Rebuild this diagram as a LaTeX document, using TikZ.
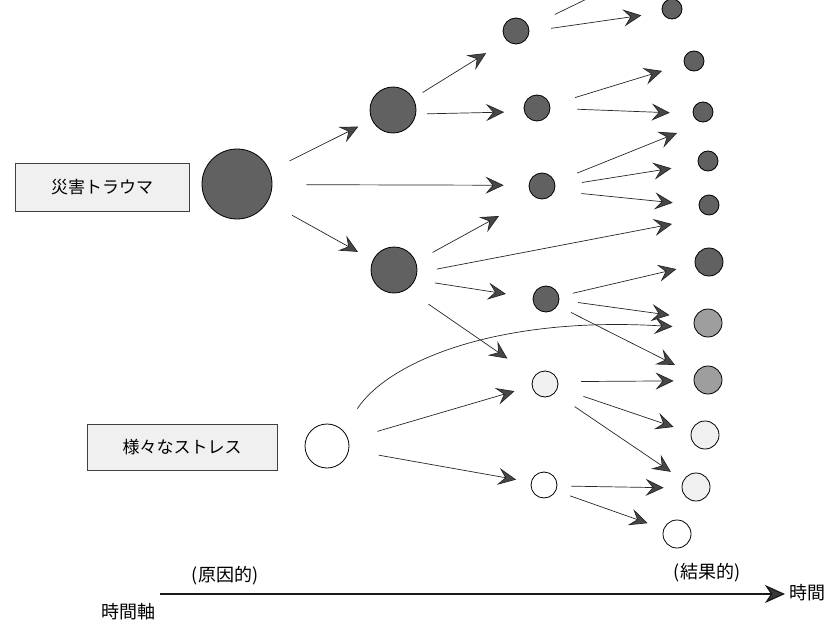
\documentclass[tikz,border=0pt]{standalone}
\usepackage{fontspec}
\newfontfamily\jp{Noto Sans CJK JP}
\usetikzlibrary{arrows.meta}
\begin{document}
\begin{tikzpicture}[x=1pt,y=-1pt,
  dot/.style={circle,draw=black,line width=0.8pt,inner sep=0pt,minimum size=#1},
  dark/.style={fill=black!62},
  midg/.style={fill=black!38},
  pale/.style={fill=black!6},
  plain/.style={fill=white},
  lbl/.style={draw=black!75,line width=0.8pt,fill=black!6,inner sep=0pt,font=\jp\fontsize{17}{17}\selectfont},
  conn/.style={draw=black!85,line width=0.7pt},
  arr/.style={conn,-{Stealth[length=18pt,width=17pt,inset=7pt,fill=black!72]}},
  axarr/.style={draw=black!90,line width=1.3pt,-{Stealth[length=20pt,width=18pt,inset=6pt,fill=black!78]}},
  axislbl/.style={font=\jp\fontsize{18}{18}\selectfont,inner sep=0pt}
]
\useasboundingbox (0,0) rectangle (828,626);

% label boxes
\node[lbl,minimum width=174pt,minimum height=48pt] (L1) at (102,187) {災害トラウマ};
\node[lbl,minimum width=190pt,minimum height=46pt] (L2) at (182,447) {様々なストレス};

% first column
\node[dot=70pt,dark] (T) at (237,184) {};
\node[dot=44pt,plain] (S) at (327,446) {};
% second column
\node[dot=46pt,dark] (A) at (393,110) {};
\node[dot=46pt,dark] (B) at (394,270) {};
% third column
\node[dot=26pt,dark] (C1) at (516,31) {};
\node[dot=26pt,dark] (C2) at (537,108) {};
\node[dot=26pt,dark] (C3) at (542,186) {};
\node[dot=26pt,dark] (C4) at (546,299) {};
\node[dot=26pt,pale] (C5) at (545,384) {};
\node[dot=26pt,plain] (C6) at (544,485) {};
% right column
\node[dot=20pt,dark] (R1) at (672,9) {};
\node[dot=20pt,dark] (R2) at (694,61) {};
\node[dot=20pt,dark] (R3) at (703,112) {};
\node[dot=20pt,dark] (R4) at (708,161) {};
\node[dot=20pt,dark] (R5) at (709,205) {};
\node[dot=28pt,dark] (R6) at (709,262) {};
\node[dot=28pt,midg] (R7) at (708,323) {};
\node[dot=28pt,midg] (R8) at (708,380) {};
\node[dot=28pt,pale] (R9) at (705,435) {};
\node[dot=28pt,pale] (R10) at (696,487) {};
\node[dot=28pt,plain] (R11) at (677,534) {};

% free ends
\coordinate (f1) at (499,216);
\coordinate (f2) at (672,224);
\coordinate (f3) at (597,-6);
\coordinate (f4) at (677,133);

% arrows from T
\draw[arr,shorten <=22pt,shorten >=15pt] (T.22) -- (A.205);
\draw[arr,shorten <=34pt,shorten >=25pt] (T.-1) -- (C3.177);
\draw[arr,shorten <=28pt,shorten >=17pt] (T.-30) -- (B.155);
% arrows from A
\draw[arr,shorten <=11pt,shorten >=24pt] (A.30) -- (C1.225);
\draw[arr,shorten <=11pt,shorten >=20pt] (A.-10) -- (C2.196);
% arrows from B
\draw[arr,shorten <=19pt] (B.21) -- (f1);
\draw[arr,shorten <=20pt] (B.-7) -- (f2);
\draw[arr,shorten <=20pt,shorten >=27pt] (B.-25) -- (C4.176);
\draw[arr,shorten <=26pt,shorten >=32pt] (B.-56) -- (C5.147);
% arrows from S
\draw[arr,shorten <=30pt,shorten >=18pt] (S.16) -- (C5.189);
\draw[arr,shorten <=30pt,shorten >=15pt] (S.-10) -- (C6.168);
\draw[arr,shorten <=26pt,shorten >=22pt] (S.45) .. controls (390,360) and (500,316) .. (R7.200);
% arrows from third column
\draw[conn,shorten <=29pt] (C1.17) -- (f3);
\draw[arr,shorten <=22pt,shorten >=21pt] (C1.-2) -- (R1.199);
\draw[arr,shorten <=26pt,shorten >=23pt] (C2.12) -- (R2.198);
\draw[arr,shorten <=27pt,shorten >=23pt] (C2.-1) -- (R3.189);
\draw[arr,shorten <=24pt] (C3.17) -- (f4);
\draw[arr,shorten <=27pt,shorten >=27pt] (C3.-3) -- (R4.197);
\draw[arr,shorten <=27pt,shorten >=26pt] (C3.-21) -- (R5.182);
\draw[arr,shorten <=14pt,shorten >=19pt] (C4.11) -- (R6.191);
\draw[arr,shorten <=19pt,shorten >=25pt] (C4.-4) -- (R7.162);
\draw[arr,shorten <=15pt,shorten >=22pt] (C4.-30) -- (R8.159);
\draw[arr,shorten <=23pt,shorten >=20pt] (C5.10) -- (R8.183);
\draw[arr,shorten <=27pt,shorten >=18pt] (C5.-16) -- (R9.171);
\draw[arr,shorten <=24pt,shorten >=15pt] (C5.-43) -- (R10.152);
\draw[arr,shorten <=14pt,shorten >=18pt] (C6.-4) -- (R10.184);
\draw[arr,shorten <=15pt,shorten >=17pt] (C6.-26) -- (R11.159);

% time axis
\coordinate (ax1) at (160,594);
\coordinate (ax2) at (785,594);
\draw[axarr] (ax1) -- (ax2);
\node[axislbl] (cause) at (225,576) {(原因的)};
\node[axislbl] (effect) at (707,573) {(結果的)};
\node[axislbl] (axname) at (128,612) {時間軸};
\node[axislbl,anchor=west] (axend) at (789,593) {時間};
\end{tikzpicture}
\end{document}
